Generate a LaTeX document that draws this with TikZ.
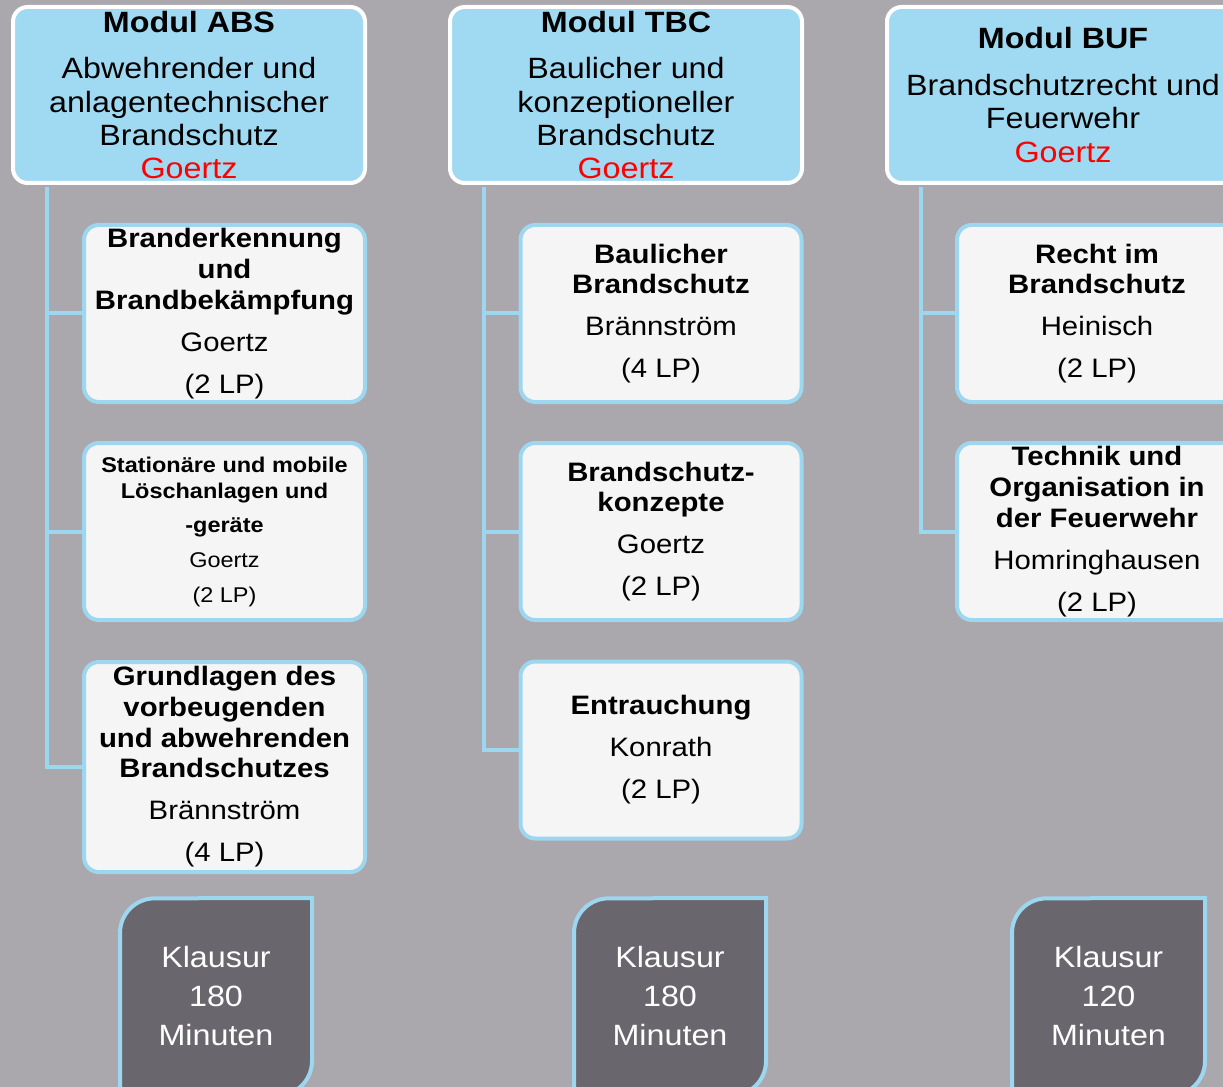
\documentclass[tikz,border=0pt]{standalone}
\usepackage{fontspec}
\setmainfont{Liberation Sans}[FakeStretch=1.1]
\usetikzlibrary{positioning}

\definecolor{bgGray}{RGB}{170,167,173}
\definecolor{modBlue}{RGB}{160,218,242}
\definecolor{lineBlue}{RGB}{157,214,239}
\definecolor{fachFill}{RGB}{245,245,245}
\definecolor{examGray}{RGB}{106,102,109}

\begin{document}
\begin{tikzpicture}[x=0.75pt, y=-0.75pt,
        modul/.style={rectangle, rounded corners=11pt, draw=white, line width=3pt, fill=modBlue, minimum width=264pt, minimum height=132pt, inner sep=0pt, align=center, font=\fontsize{22}{25}\selectfont},
        fach/.style={rectangle, rounded corners=11pt, draw=lineBlue, line width=3pt, fill=fachFill, minimum width=210.75pt, minimum height=132.75pt, inner sep=0pt, align=center, font=\fontsize{20}{23}\selectfont},
        fachsmall/.style={fach, font=\fontsize{16}{19.5}\selectfont},
        klausur/.style={rectangle, inner sep=0pt, align=center, text=white, font=\fontsize{22}{29}\selectfont},
        examshape/.style={draw=lineBlue, line width=3pt, fill=examGray},
        conn/.style={draw=lineBlue, line width=3pt},
    ]
    \useasboundingbox (0,0) rectangle (1223,1087);
    \clip (0,0) rectangle (1223,1087);
    \fill[bgGray] (0,0) rectangle (1223,1087);

    % Column ABS
    \node[modul] (absMod) at (189,95) {\textbf{Modul ABS}\\[10pt] Abwehrender und\\ anlagentechnischer\\ Brandschutz\\ \textcolor{red}{Goertz}};
    \node[fach] (abs1) at (224.5,313.5) {\textbf{Branderkennung}\\ \textbf{und}\\ \textbf{Brandbekämpfung}\\[8.5pt] Goertz\\[8.5pt] (2 LP)};
    \node[fachsmall] (abs2) at (224.5,531.5) {\textbf{Stationäre und mobile}\\ \textbf{Löschanlagen und}\\[6.5pt] \textbf{-geräte}\\[6.5pt] Goertz\\[6.5pt] (2 LP)};
    \node[fach, minimum height=157.5pt] (abs3) at (224.5,767) {\textbf{Grundlagen des}\\ \textbf{vorbeugenden}\\ \textbf{und abwehrenden}\\ \textbf{Brandschutzes}\\[8.5pt] Brännström\\[8.5pt] (4 LP)};
    \draw[conn] ([xshift=27pt, yshift=-1.5pt]absMod.south west) |- (abs1.west);
    \draw[conn] ([xshift=27pt, yshift=-1.5pt]absMod.south west) |- (abs2.west);
    \draw[conn] ([xshift=27pt, yshift=-1.5pt]absMod.south west) |- (abs3.west);

    % Column TBC
    \node[modul] (tbcMod) at (626,95) {\textbf{Modul TBC}\\[10pt] Baulicher und\\ konzeptioneller\\ Brandschutz\\ \textcolor{red}{Goertz}};
    \node[fach] (tbc1) at (661,313.5) {\textbf{Baulicher}\\ \textbf{Brandschutz}\\[8.5pt] Brännström\\[8.5pt] (4 LP)};
    \node[fach] (tbc2) at (661,531.5) {\textbf{Brandschutz-}\\ \textbf{konzepte}\\[8.5pt] Goertz\\[8.5pt] (2 LP)};
    \node[fach] (tbc3) at (661,750) {\textbf{Entrauchung}\\[8.5pt] Konrath\\[8.5pt] (2 LP)};
    \draw[conn] ([xshift=27pt, yshift=-1.5pt]tbcMod.south west) |- (tbc1.west);
    \draw[conn] ([xshift=27pt, yshift=-1.5pt]tbcMod.south west) |- (tbc2.west);
    \draw[conn] ([xshift=27pt, yshift=-1.5pt]tbcMod.south west) |- (tbc3.west);

    % Column BUF
    \node[modul] (bufMod) at (1063,95) {\textbf{Modul BUF}\\[10pt] Brandschutzrecht und\\ Feuerwehr\\ \textcolor{red}{Goertz}};
    \node[fach, minimum width=210pt] (buf1) at (1097,313.5) {\textbf{Recht im}\\ \textbf{Brandschutz}\\[8.5pt] Heinisch\\[8.5pt] (2 LP)};
    \node[fach, minimum width=210pt] (buf2) at (1097,531.5) {\textbf{Technik und}\\ \textbf{Organisation in}\\ \textbf{der Feuerwehr}\\[8.5pt] Homringhausen\\[8.5pt] (2 LP)};
    \draw[conn] ([xshift=27pt, yshift=-1.5pt]bufMod.south west) |- (buf1.west);
    \draw[conn] ([xshift=27pt, yshift=-1.5pt]bufMod.south west) |- (buf2.west);

    % Klausuren
    \draw[examshape] (120,1096) -- (120,933) arc[start angle=180, end angle=90, radius=26pt] -- (312,898) -- (312,1061) arc[start angle=0, end angle=-90, radius=26pt] -- cycle;
    \node[klausur] (examABS) at (216,996) {Klausur\\ 180\\ Minuten};
    \draw[examshape] (574,1096) -- (574,933) arc[start angle=180, end angle=90, radius=26pt] -- (766,898) -- (766,1061) arc[start angle=0, end angle=-90, radius=26pt] -- cycle;
    \node[klausur] (examTBC) at (670,996) {Klausur\\ 180\\ Minuten};
    \draw[examshape] (1012,1096) -- (1012,933) arc[start angle=180, end angle=90, radius=26pt] -- (1205,898) -- (1205,1061) arc[start angle=0, end angle=-90, radius=26pt] -- cycle;
    \node[klausur] (examBUF) at (1108.5,996) {Klausur\\ 120\\ Minuten};
\end{tikzpicture}
\end{document}
